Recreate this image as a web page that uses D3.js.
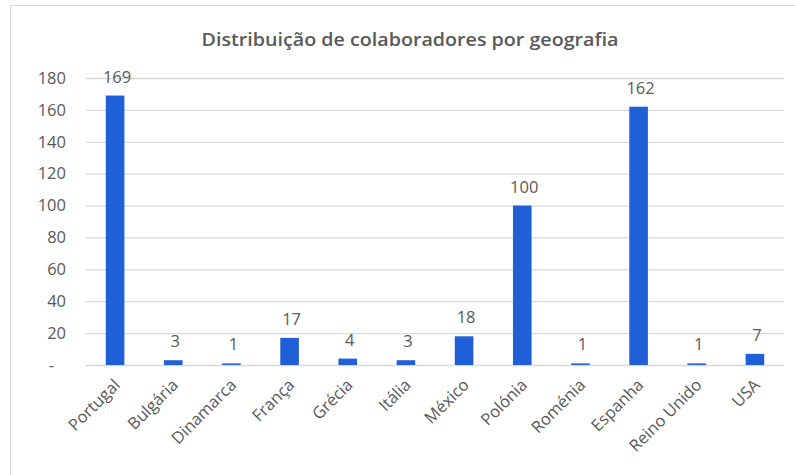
<!DOCTYPE html>
<html><head><meta charset="utf-8">
<script src="https://cdn.jsdelivr.net/npm/d3@7"></script>
<style>body{margin:0;background:#fff;} svg{display:block;}</style>
</head><body>
<svg id="c" width="795" height="475"></svg>
<script>
const categories = ["Portugal","Bulgária","Dinamarca","França","Grécia","Itália","México","Polónia","Roménia","Espanha","Reino Unido","USA"];
const values = [169,3,1,17,4,3,18,100,1,162,1,7];
const yTicks = [0,20,40,60,80,100,120,140,160,180];
const title = "Distribuição de colaboradores por geografia";

const svg = d3.select("#c");
const W = 795, H = 475;
const m = {left: 86, right: 11, top: 78, bottom: 110};
const font = "'Open Sans', sans-serif";
const grey = "#595959";

svg.append("rect").attr("x",10.5).attr("y",5.5).attr("width",W).attr("height",H)
  .attr("fill","#fff").attr("stroke","#d9d9d9");

const x = d3.scaleBand().domain(categories).range([m.left, W - m.right]).paddingInner(0.68).paddingOuter(0.34);
const y = d3.scaleLinear().domain([0,180]).range([H - m.bottom, m.top]);

svg.append("text").attr("x", 410).attr("y", 46).attr("text-anchor","middle")
  .attr("font-family", font).attr("font-size", 18).attr("font-weight", 600).attr("fill", grey)
  .attr("textLength", 417).attr("lengthAdjust","spacingAndGlyphs")
  .text(title);

const gy = svg.append("g").attr("transform", `translate(${m.left},0)`)
  .call(d3.axisLeft(y).tickValues(yTicks).tickSize(-(W - m.right - m.left)).tickPadding(20)
    .tickFormat(d => d === 0 ? "-" : d));
gy.select(".domain").remove();
gy.selectAll(".tick line").attr("stroke","#d9d9d9").attr("stroke-width",1.3);
gy.selectAll(".tick text").attr("font-family", font).attr("font-size", 16.5).attr("fill", grey)
  .attr("dx", d => d === 0 ? -12 : 0);

svg.selectAll("rect.bar").data(values).enter().append("rect").attr("class","bar")
  .attr("x", (d,i) => x(categories[i])).attr("width", x.bandwidth())
  .attr("y", d => y(d)).attr("height", d => y(0) - y(d)).attr("fill", "#1f5fd7");

svg.selectAll("text.val").data(values).enter().append("text").attr("class","val")
  .attr("x", (d,i) => x(categories[i]) + x.bandwidth()/2 + 2).attr("y", d => y(d) - 13)
  .attr("text-anchor","middle").attr("font-family", font).attr("font-size", 16.5).attr("fill", grey)
  .text(d => d);

const gx = svg.append("g").attr("transform", `translate(0,${y(0)})`)
  .call(d3.axisBottom(x).tickSize(0).tickPadding(0));
gx.select(".domain").remove();
gx.selectAll(".tick text").attr("font-family", font).attr("font-size", 16.5).attr("fill", grey)
  .attr("text-anchor","end").attr("dy", 0)
  .attr("transform","translate(6,21) rotate(-45)");
</script>
</body></html>
